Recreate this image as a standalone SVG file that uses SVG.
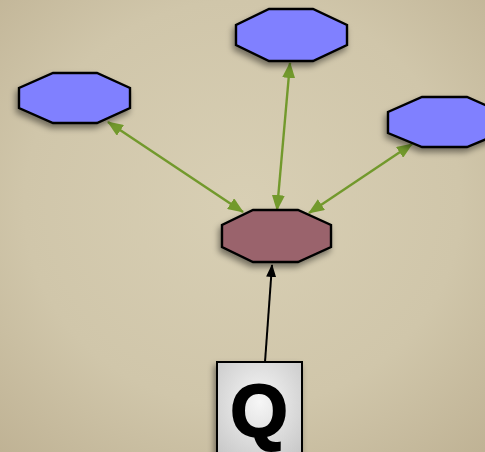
<svg xmlns="http://www.w3.org/2000/svg" width="485" height="452" viewBox="0 0 485 452">
<defs>
<radialGradient id="bg" cx="50%" cy="45%" r="75%">
<stop offset="0" stop-color="#d8cfb4"/>
<stop offset="0.6" stop-color="#d0c6aa"/>
<stop offset="1" stop-color="#bfb294"/>
</radialGradient>
<radialGradient id="qg" cx="50%" cy="40%" r="70%">
<stop offset="0" stop-color="#f6f6f6"/>
<stop offset="1" stop-color="#c8c8c8"/>
</radialGradient>
<filter id="sh" x="-30%" y="-30%" width="160%" height="170%">
<feDropShadow dx="-2" dy="4" stdDeviation="3" flood-color="#000" flood-opacity="0.45"/>
</filter>
<marker id="ga" viewBox="0 0 16 13" refX="15" refY="6.5" markerWidth="16" markerHeight="13" markerUnits="userSpaceOnUse" orient="auto-start-reverse">
<path d="M0,0 L16,6.5 L0,13 Z" fill="#72992c"/>
</marker>
<marker id="ka" viewBox="0 0 13 10" refX="12" refY="5" markerWidth="13" markerHeight="10" markerUnits="userSpaceOnUse" orient="auto">
<path d="M0,0 L13,5 L0,10 Z" fill="#000"/>
</marker>
<style>
.oct{stroke:#000;stroke-width:2.4;filter:url(#sh)}
.blue{fill:#8080ff}
.red{fill:#9a646c}
.g{stroke:#72992c;stroke-width:2.4;fill:none;marker-start:url(#ga);marker-end:url(#ga)}
.k{stroke:#000;stroke-width:2;fill:none;marker-end:url(#ka)}
.q{font-family:"Liberation Sans",Arial,sans-serif;font-weight:bold;font-size:74px;fill:#000;stroke:#000;stroke-width:2}
</style>
</defs>
<rect width="485" height="452" fill="url(#bg)"/>
<g id="connectors">
<line class="g" x1="108" y1="122" x2="243" y2="212"/>
<line class="g" x1="290" y1="63" x2="277" y2="210"/>
<line class="g" x1="412" y1="144" x2="309" y2="213"/>
<line class="k" x1="265" y1="362" x2="272" y2="265"/>
</g>
<g id="node-top">
<polygon class="oct blue" points="269,9 313,9 347,25 347,45 313,61 269,61 236,45 236,25"/>
</g>
<g id="node-left">
<polygon class="oct blue" points="53,73 97,73 130,88 130,108 97,123 53,123 19,108 19,88"/>
</g>
<g id="node-right">
<polygon class="oct blue" points="422,97 467,97 501,112 501,133 467,147 422,147 388,133 388,112"/>
</g>
<g id="node-center">
<polygon class="oct red" points="253,210 298,210 331,225 331,247 298,262 253,262 222,247 222,225"/>
</g>
<g id="node-q">
<rect x="217" y="362" width="85" height="100" fill="url(#qg)" stroke="#000" stroke-width="2" filter="url(#sh)"/>
<text class="q" x="259" y="436" text-anchor="middle">Q</text>
</g>
</svg>
